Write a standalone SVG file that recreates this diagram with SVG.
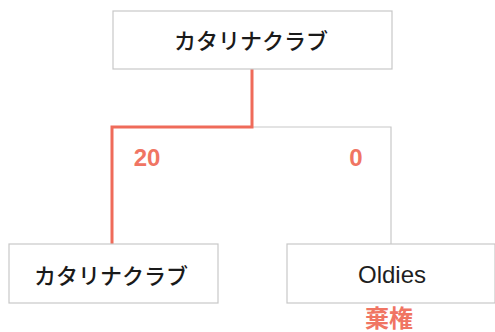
<svg xmlns="http://www.w3.org/2000/svg" width="495" height="332" viewBox="0 0 495 332">
<style>
.box{fill:#fff;stroke:#c8c8c8;stroke-width:1.2}
.jp{font-family:"Noto Sans CJK JP","Noto Sans",sans-serif;font-size:22px;font-weight:500;fill:#1a1a1a;text-anchor:middle;dominant-baseline:central}
.en{font-family:"Liberation Sans","Noto Sans",sans-serif;font-size:24px;fill:#1e1e1e;text-anchor:middle;dominant-baseline:central}
.score{font-family:"Liberation Sans","Noto Sans CJK JP",sans-serif;font-size:24px;font-weight:bold;fill:#f07563;text-anchor:middle;dominant-baseline:central}
.kiken{font-family:"Noto Sans CJK JP",sans-serif;font-size:24px;font-weight:bold;fill:#f07563;text-anchor:middle;dominant-baseline:central}
.win{fill:none;stroke:#ef6b5a;stroke-width:3}
.lose{fill:none;stroke:#c8c8c8;stroke-width:1.2}
</style>
<g id="connectors">
<polyline class="lose" points="252,127 391,127 391,244"/>
<polyline class="win" points="252,69 252,127 112,127 112,244"/>
</g>
<g id="node-top">
<rect class="box" x="113" y="11" width="279" height="58"/>
<text class="jp" x="251" y="39">カタリナクラブ</text>
</g>
<g id="node-left">
<rect class="box" x="9" y="244" width="209" height="59"/>
<text class="jp" x="111" y="274">カタリナクラブ</text>
</g>
<g id="node-right">
<rect class="box" x="287" y="244" width="208" height="59"/>
<text class="en" x="392" y="274">Oldies</text>
</g>
<g id="labels">
<text class="score" x="147" y="157">20</text>
<text class="score" x="356" y="157">0</text>
<text class="kiken" x="389" y="316">棄権</text>
</g>
</svg>
